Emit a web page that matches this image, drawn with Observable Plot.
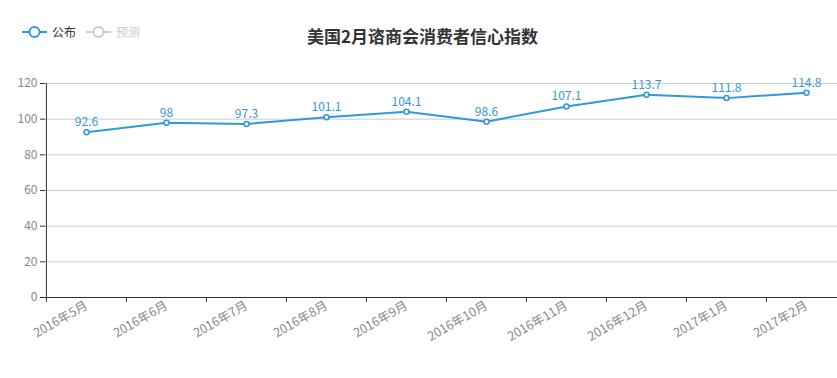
<!DOCTYPE html>
<html><head><meta charset="utf-8">
<script src="https://cdn.jsdelivr.net/npm/d3@7"></script>
<script src="https://cdn.jsdelivr.net/npm/@observablehq/plot@0.6"></script>
<style>
html,body{margin:0;padding:0;background:#fff;}
body{width:837px;height:378px;overflow:hidden;font-family:"Noto Sans CJK SC","Noto Sans",sans-serif;}
#head{position:relative;height:70px;}
#title{position:absolute;left:0;width:845px;top:24px;text-align:center;font-size:17px;font-weight:bold;color:#333;line-height:24px;}
.leg{position:absolute;top:24px;height:16px;font-size:12px;line-height:16px;display:flex;align-items:center;}
.leg svg{margin-right:5px;}
#chart svg{display:block;overflow:hidden;}
</style></head>
<body>
<div id="head">
  <div class="leg" id="leg1" style="left:22px;color:#333"></div>
  <div class="leg" id="leg2" style="left:86px;color:#ccc"></div>
  <div id="title">美国2月谘商会消费者信心指数</div>
</div>
<div id="chart"></div>
<script>
const months = ["2016年5月","2016年6月","2016年7月","2016年8月","2016年9月","2016年10月","2016年11月","2016年12月","2017年1月","2017年2月"];
const values = [92.6, 98, 97.3, 101.1, 104.1, 98.6, 107.1, 113.7, 111.8, 114.8];
const yTicks = [0, 20, 40, 60, 80, 100, 120];
const legendItems = ["公布", "预测"];
const legendColors = ["#3398DB", "#ccc"];

const data = months.map((m, i) => ({month: m, value: values[i]}));
const blue = "#3398DB";

function icon(c){
  return `<svg width="25" height="14"><line x1="0" y1="7" x2="25" y2="7" stroke="${c}" stroke-width="2"/><circle cx="12.5" cy="7" r="5" fill="#fff" stroke="${c}" stroke-width="2"/></svg>`;
}
document.getElementById("leg1").innerHTML = icon(legendColors[0]) + legendItems[0];
document.getElementById("leg2").innerHTML = icon(legendColors[1]) + legendItems[1];

const left = 45, bw = 80.2;
const chart = Plot.plot({
  width: 837, height: 308,
  marginTop: 13, marginBottom: 81, marginLeft: left, marginRight: 0,
  style: {fontFamily: '"Noto Sans CJK SC","Noto Sans",sans-serif', fontSize: "12px", background: "#fff", overflow: "hidden"},
  x: {type: "band", domain: months, range: [left, left + bw * months.length], padding: 0},
  y: {domain: [0, 120], range: [227, 13]},
  marks: [
    Plot.gridY(yTicks, {stroke: "#ccc", strokeOpacity: 1}),
    Plot.ruleY([0], {stroke: "#333"}),
    Plot.ruleX([months[0]], {y1: 0, y2: 120, dx: -bw / 2, stroke: "#333"}),
    Plot.ruleX(months, {x: d => d, y1: 0, y2: -2.8, dx: -bw / 2, stroke: "#333"}),
    Plot.axisY({ticks: yTicks, tickSize: 5, tickPadding: 3, stroke: "#333", fill: "#888", label: null}),
    Plot.axisX({ticks: months, tickSize: 0, tickPadding: 7, tickRotate: -30, fill: "#888", fontSize: 12.5, label: null}),
    Plot.line(data, {x: "month", y: "value", stroke: blue, strokeWidth: 2}),
    Plot.dot(data, {x: "month", y: "value", r: 2.5, fill: "#fff", stroke: blue, strokeWidth: 1.5}),
    Plot.text(data, {x: "month", y: "value", text: d => String(d.value), dy: -10, fill: blue, fontSize: 12})
  ]
});
document.getElementById("chart").append(chart);
</script>
</body></html>
